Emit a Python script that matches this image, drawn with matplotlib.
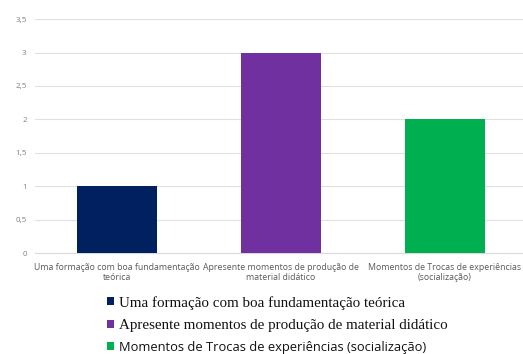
import matplotlib.pyplot as plt
from matplotlib.patches import Patch

# chart data
categories = [
    "Uma formação com boa fundamentação\nteórica",
    "Apresente momentos de produção de\nmaterial didático",
    "Momentos de Trocas de experiências\n(socialização)",
]
legend_labels = [
    "Uma formação com boa fundamentação teórica",
    "Apresente momentos de produção de material didático",
    "Momentos de Trocas de experiências (socialização)",
]
values = [1, 3, 2]
colors = ["#002060", "#7030A0", "#00B050"]
yticks = [0, 0.5, 1, 1.5, 2, 2.5, 3, 3.5]
ytick_labels = ["0", "0,5", "1", "1,5", "2", "2,5", "3", "3,5"]

fig = plt.figure(figsize=(5.23, 3.54), dpi=100)
ax = fig.add_axes([0.067, 0.285, 0.94, 0.661])

x = range(len(categories))
ax.bar(x, values, width=0.49, color=colors, zorder=3)

ax.set_xlim(-0.5, 2.5)
ax.set_ylim(0, 3.5)
ax.set_yticks(yticks)
ax.set_yticklabels(ytick_labels, fontsize=5.8, color="#808080", fontfamily="Open Sans")
ax.set_xticks(list(x))
ax.set_xticklabels(categories, fontsize=6.3, color="#595959", fontfamily="Open Sans",
                   linespacing=1.15)
ax.grid(axis="y", color="#e0e0e0", linewidth=0.8, zorder=0)
ax.tick_params(axis="y", length=0, pad=6)
ax.tick_params(axis="x", length=0, pad=7)
for s in ["top", "right", "left"]:
    ax.spines[s].set_visible(False)
ax.spines["bottom"].set_color("#d9d9d9")

handles = [Patch(facecolor=c) for c in colors]
leg = fig.legend(handles, legend_labels, loc="upper left", bbox_to_anchor=(0.19, 0.185),
                 frameon=False, fontsize=10.8, handlelength=0.45, handleheight=0.45,
                 handletextpad=0.35, labelspacing=0.62, borderpad=0)
fams = ["Liberation Serif", "Liberation Serif", "Open Sans"]
sizes = [10.8, 10.8, 9.3]
for t, f, s in zip(leg.get_texts(), fams, sizes):
    t.set_fontfamily(f)
    t.set_fontsize(s)
    t.set_color("#111111")

fig.savefig("out.png", dpi=100)
